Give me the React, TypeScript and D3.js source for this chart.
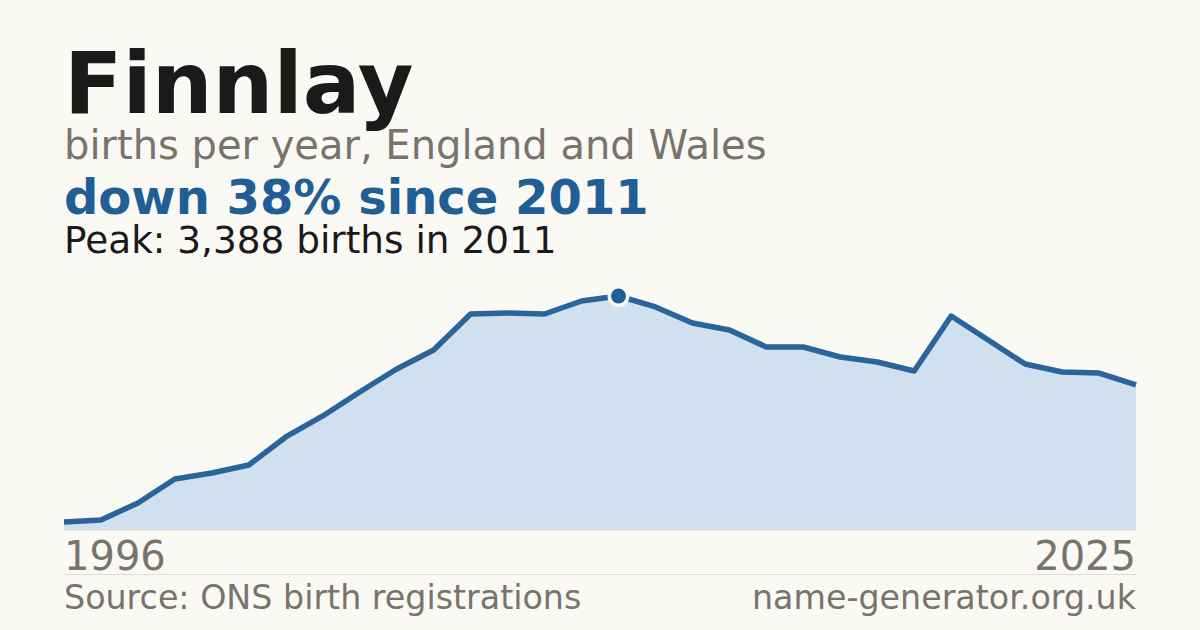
import React from "react";
import * as d3 from "d3";

const years: number[] = [
  1996, 1997, 1998, 1999, 2000, 2001, 2002, 2003, 2004, 2005,
  2006, 2007, 2008, 2009, 2010, 2011, 2012, 2013, 2014, 2015,
  2016, 2017, 2018, 2019, 2020, 2021, 2022, 2023, 2024, 2025,
];
const births: number[] = [
  116, 145, 391, 738, 825, 941, 1347, 1651, 1998, 2331,
  2606, 3127, 3142, 3127, 3316, 3388, 3229, 2997, 2896, 2650,
  2650, 2505, 2432, 2302, 3098, 2751, 2403, 2288, 2273, 2100,
];
const titleText = "Finnlay";
const subtitleText = "births per year, England and Wales";
const changeText = "down 38% since 2011";
const peakText = "Peak: 3,388 births in 2011";
const sourceText = "Source: ONS birth registrations";
const siteText = "name-generator.org.uk";

const W = 1200;
const H = 630;
const FONT = "'DejaVu Sans', sans-serif";
const BG = "#faf9f4";
const BLUE = "#1f5f95";
const GRAY = "#78746c";

export default function App() {
  const data = years.map((y, i) => ({ year: y, value: births[i] }));
  const x = d3.scaleLinear().domain([years[0], years[years.length - 1]]).range([64, 1136]);
  const maxV = d3.max(births) as number;
  const y = d3.scaleLinear().domain([0, maxV]).range([530, 296]);
  const area = d3
    .area<{ year: number; value: number }>()
    .x((d) => x(d.year))
    .y0(y(0))
    .y1((d) => y(d.value));
  const line = d3
    .line<{ year: number; value: number }>()
    .x((d) => x(d.year))
    .y((d) => y(d.value));
  const peak = data.reduce((a, b) => (b.value > a.value ? b : a));

  return (
    <svg
      width={W}
      height={H}
      viewBox={`0 0 ${W} ${H}`}
      style={{ position: "absolute", left: 0, top: 0, display: "block" }}
      fontFamily={FONT}
    >
      <rect x={0} y={0} width={W} height={H} fill={BG} />
      <text x={64} y={113} fontSize={85.5} fontWeight="bold" fill="#1a1a1a">
        {titleText}
      </text>
      <text x={64} y={159} fontSize={40} fill={GRAY}>
        {subtitleText}
      </text>
      <text x={64} y={214} fontSize={48} fontWeight="bold" fill={BLUE}>
        {changeText}
      </text>
      <text x={64} y={253} fontSize={37.4} fill="#1a1a1a">
        {peakText}
      </text>

      <path d={area(data) ?? ""} fill="#d0e0ef" />
      <line x1={64} x2={1136} y1={y(0)} y2={y(0)} stroke="#dcdad3" strokeWidth={1} />
      <path
        d={line(data) ?? ""}
        fill="none"
        stroke="#29649a"
        strokeWidth={5.5}
        strokeLinejoin="round"
      />
      <circle cx={x(peak.year)} cy={y(peak.value)} r={11} fill={BG} />
      <circle cx={x(peak.year)} cy={y(peak.value)} r={7.5} fill={BLUE} />

      <text x={64} y={570} fontSize={40} fill={GRAY}>
        {String(years[0])}
      </text>
      <text x={1136} y={570} fontSize={40} fill={GRAY} textAnchor="end">
        {String(years[years.length - 1])}
      </text>
      <line x1={64} x2={1136} y1={574.5} y2={574.5} stroke="#dcdad3" strokeWidth={1} />
      <text x={64} y={609} fontSize={33.3} fill={GRAY}>
        {sourceText}
      </text>
      <text x={1136} y={609} fontSize={33.3} fill={GRAY} textAnchor="end">
        {siteText}
      </text>
    </svg>
  );
}
